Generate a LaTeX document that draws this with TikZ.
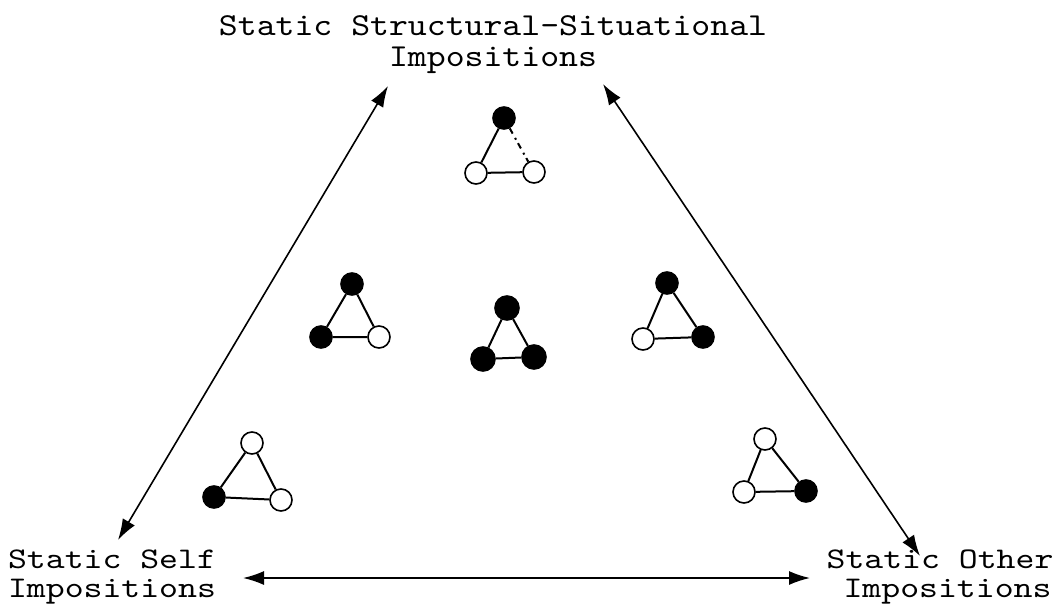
\documentclass[tikz,border=0pt]{standalone}
\usepackage{fontspec}
\newfontfamily\monoA[Extension=.otf, FakeStretch=1.125]{lmmono10-regular}
\newfontfamily\monoB[Extension=.otf, FakeStretch=1.2]{lmmono10-regular}
\usetikzlibrary{arrows.meta}
\begin{document}
\begin{tikzpicture}[x=1pt,y=-1pt,
  lbl/.style={font=\monoA\fontsize{32}{31}\selectfont, anchor=north, inner sep=0pt, align=center},
  lblb/.style={lbl, font=\monoB\fontsize{30}{29}\selectfont},
  dot/.style={circle, draw=black, line width=1.6pt, minimum size=22pt, inner sep=0pt},
  bk/.style={dot, fill=black},
  wt/.style={dot, fill=white},
  edge/.style={line width=2pt},
  arr/.style={line width=1.6pt, {Latex[length=21pt,width=14pt]}-{Latex[length=21pt,width=14pt]}}
]
\useasboundingbox (0,0) rectangle (1060,611);
% labels
\node[lbl] (top) at (493,15) {Static Structural-Situational\\Impositions};
\node[lblb] (self) at (112,550) {Static Self\\Impositions};
\node[lblb] (other) at (940,550) {Static Other\\\hspace*{0.5em}Impositions};
% arrow ends
\coordinate (a1) at (388,86);
\coordinate (a2) at (118,540);
\coordinate (b1) at (603,84);
\coordinate (b2) at (920,556);
\coordinate (c1) at (243,578);
\coordinate (c2) at (810,578);
\draw[arr] (a1) -- (a2);
\draw[arr] (b1) -- (b2);
\draw[arr] (c1) -- (c2);
% triangle 1 (top)
\node[bk] (p1) at (504,118) {};
\node[wt] (p2) at (476,173) {};
\node[wt] (p3) at (534,172) {};
\draw[edge] (p1) -- (p2);
\draw[edge] (p2) -- (p3);
\draw[edge, dash pattern=on 6pt off 5pt on 2pt off 4pt] (p1) -- (p3);
% triangle 2 (left middle)
\node[bk] (q1) at (352,284) {};
\node[bk] (q2) at (321,337) {};
\node[wt] (q3) at (379,337) {};
\draw[edge] (q1) -- (q2) -- (q3) -- (q1);
% triangle 3 (centre)
\node[bk, minimum size=24pt] (m1) at (507,308) {};
\node[bk, minimum size=24pt] (m2) at (483,359) {};
\node[bk, minimum size=24pt] (m3) at (534,357) {};
\draw[edge] (m1) -- (m2) -- (m3) -- (m1);
% triangle 4 (right middle)
\node[bk] (s1) at (667,283) {};
\node[wt] (s2) at (643,339) {};
\node[bk] (s3) at (703,337) {};
\draw[edge] (s1) -- (s2) -- (s3) -- (s1);
% triangle 5 (bottom left)
\node[wt] (u1) at (252,443) {};
\node[bk] (u2) at (214,497) {};
\node[wt] (u3) at (281,500) {};
\draw[edge] (u1) -- (u2) -- (u3) -- (u1);
% triangle 6 (bottom right)
\node[wt] (v1) at (765,439) {};
\node[wt] (v2) at (744,492) {};
\node[bk] (v3) at (806,491) {};
\draw[edge] (v1) -- (v2) -- (v3) -- (v1);
\end{tikzpicture}
\end{document}
